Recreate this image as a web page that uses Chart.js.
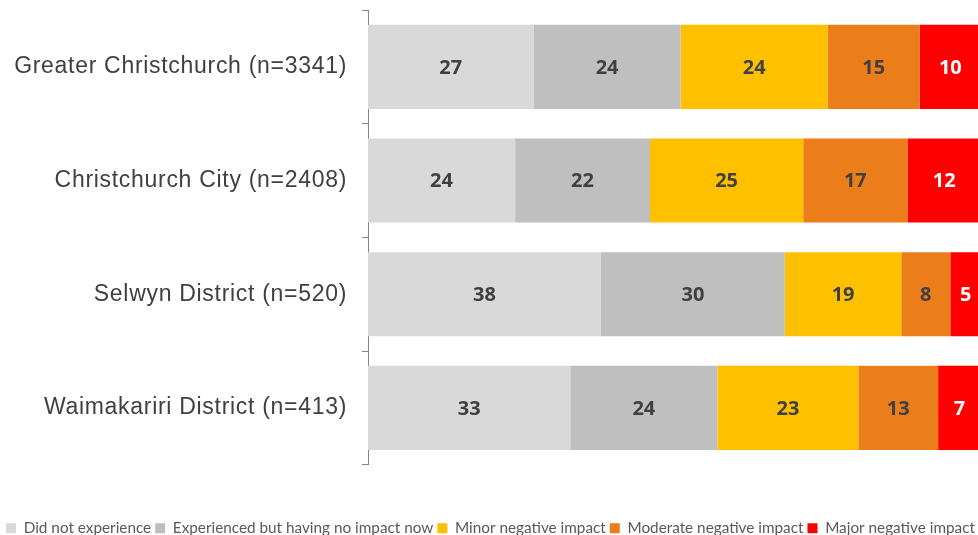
<!DOCTYPE html>
<html>
<head>
<meta charset="utf-8">
<script src="https://cdn.jsdelivr.net/npm/chart.js@4/dist/chart.umd.min.js"></script>
<style>
html,body{margin:0;padding:0;background:#fff;overflow:hidden;width:978px;height:535px;}
#wrap{position:absolute;left:0;top:0;width:990px;height:546px;}
</style>
</head>
<body>
<div id="wrap"><canvas id="c"></canvas></div>
<script>
const categories = ["Greater Christchurch (n=3341)", "Christchurch City (n=2408)", "Selwyn District (n=520)", "Waimakariri District (n=413)"];
const seriesNames = ["Did not experience", "Experienced but having no impact now", "Minor negative impact", "Moderate negative impact", "Major negative impact"];
const didNotExperience = [27, 24, 38, 33];
const experiencedNoImpact = [24, 22, 30, 24];
const minorNegative = [24, 25, 19, 23];
const moderateNegative = [15, 17, 8, 13];
const majorNegative = [10, 12, 5, 7];
const seriesColors = ["#D9D9D9", "#BFBFBF", "#FFC000", "#EC7D1B", "#FF0000"];
const labelColors = ["#404040", "#404040", "#404040", "#404040", "#FFFFFF"];

const seriesValues = [didNotExperience, experiencedNoImpact, minorNegative, moderateNegative, majorNegative];

const dataLabelPlugin = {
  id: 'dataLabels',
  afterDatasetsDraw(chart) {
    const ctx = chart.ctx;
    ctx.save();
    ctx.font = 'bold 20px "Open Sans"';
    ctx.textAlign = 'center';
    ctx.textBaseline = 'middle';
    chart.data.datasets.forEach((ds, i) => {
      const meta = chart.getDatasetMeta(i);
      meta.data.forEach((el, j) => {
        const p = el.getCenterPoint();
        ctx.fillStyle = labelColors[i];
        ctx.fillText(String(ds.data[j]), p.x, p.y + 1);
      });
    });
    ctx.restore();
  }
};

new Chart(document.getElementById('c'), {
  type: 'bar',
  data: {
    labels: categories,
    datasets: seriesNames.map((n, i) => ({
      label: n,
      data: seriesValues[i],
      backgroundColor: seriesColors[i],
      borderWidth: 0,
      categoryPercentage: 1,
      barPercentage: 0.74
    }))
  },
  options: {
    indexAxis: 'y',
    responsive: true,
    maintainAspectRatio: false,
    animation: false,
    layout: { padding: { top: 10, right: 9, left: 0, bottom: 0 } },
    scales: {
      x: {
        stacked: true, min: 0, max: 100, display: true,
        grid: { display: false }, border: { display: false },
        ticks: { display: false },
        afterFit(scale) { scale.height = 52; }
      },
      y: {
        stacked: true,
        afterFit(scale) {
          scale.width = 368;
          scale.paddingTop = 0;
          scale.paddingBottom = 0;
          if (!scale._lsPatched) {
            scale._lsPatched = true;
            const orig = scale.drawLabels;
            scale.drawLabels = function (area) {
              const ctx = this.ctx;
              const prev = ctx.letterSpacing;
              ctx.letterSpacing = '0.7px';
              orig.call(this, area);
              ctx.letterSpacing = prev || '0px';
            };
          }
        },
        border: { display: true, color: '#868686', width: 1 },
        grid: { display: true, drawOnChartArea: false, drawTicks: true, tickLength: 6, color: '#868686', offset: true },
        ticks: { color: '#404040', font: { family: '"Liberation Sans", Arial', size: 23 }, padding: 15 }
      }
    },
    plugins: {
      tooltip: { enabled: false },
      legend: {
        position: 'bottom',
        labels: {
          boxWidth: 10, boxHeight: 10, padding: 4,
          color: '#595959',
          font: { family: 'Lato', size: 15.3 }
        }
      }
    }
  },
  plugins: [dataLabelPlugin]
});
</script>
</body>
</html>
